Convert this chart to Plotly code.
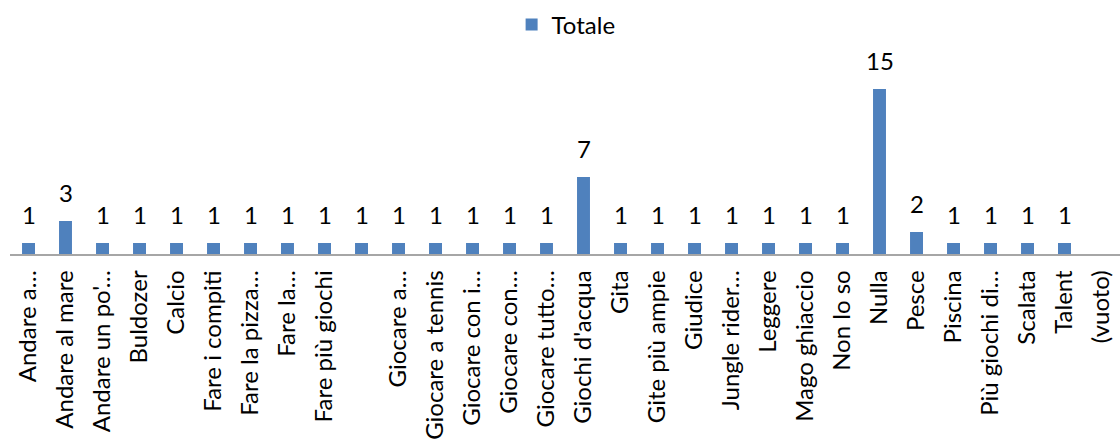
import plotly.graph_objects as go

# Risposte raccolte: categoria -> numero di risposte
categorie = [
    "Andare a…", "Andare al mare", "Andare un po'…", "Buldozer", "Calcio",
    "Fare i compiti", "Fare la pizza…", "Fare la…", "Fare più giochi", " ",
    "Giocare a…", "Giocare a tennis", "Giocare con i…", "Giocare con…",
    "Giocare tutto…", "Giochi d'acqua", "Gita", "Gite più ampie", "Giudice",
    "Jungle rider…", "Leggere", "Mago ghiaccio", "Non lo so", "Nulla",
    "Pesce", "Piscina", "Più giochi di…", "Scalata", "Talent", "(vuoto)",
]
totale = [
    1, 3, 1, 1, 1,
    1, 1, 1, 1, 1,
    1, 1, 1, 1,
    1, 7, 1, 1, 1,
    1, 1, 1, 1, 15,
    2, 1, 1, 1, 1, None,
]

BAR_COLOR = "#4F81BD"
FONT = "Lato"
SIZE = 24

fig = go.Figure()
fig.add_trace(go.Bar(
    x=categorie,
    y=totale,
    name="Totale",
    marker=dict(color=BAR_COLOR, line=dict(width=0)),
    width=0.35,
    showlegend=True,
))

# etichette dei valori sopra le barre
for cat, val in zip(categorie, totale):
    if val is None:
        continue
    fig.add_annotation(
        x=cat, y=val, text=str(val), showarrow=False,
        xanchor="center", yanchor="bottom", yshift=12,
        font=dict(family=FONT, size=SIZE, color="#000000"),
    )

fig.update_layout(
    width=1120,
    height=446,
    margin=dict(l=10, r=0, t=24, b=192, autoexpand=False),
    paper_bgcolor="white",
    plot_bgcolor="white",
    bargap=0.65,
    font=dict(family=FONT, size=SIZE, color="#000000"),
    legend=dict(
        orientation="h",
        x=0.501, xanchor="center",
        yref="container", y=1 - 25 / 446, yanchor="middle",
        font=dict(family=FONT, size=SIZE, color="#000000"),
        itemwidth=30,
    ),
    xaxis=dict(
        type="category",
        tickangle=-90,
        showline=True,
        linecolor="#A6A6A6",
        linewidth=1.5,
        showgrid=False,
        ticks="",
        ticklabelstandoff=5,
        tickfont=dict(family=FONT, size=SIZE, color="#000000"),
        range=[-0.5, len(categorie) - 0.5],
    ),
    yaxis=dict(
        range=[0, 230 / 11],
        visible=False,
        showgrid=False,
        zeroline=False,
    ),
)

fig.write_html("out.html")
